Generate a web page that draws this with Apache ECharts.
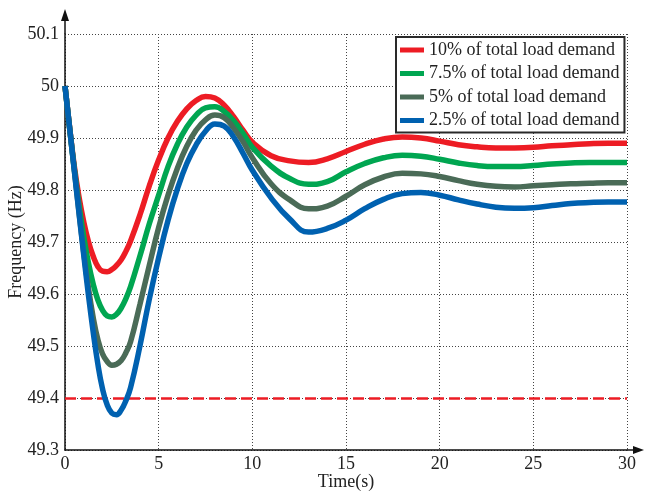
<!DOCTYPE html>
<html>
<head>
<meta charset="utf-8">
<script src="https://cdn.jsdelivr.net/npm/echarts@6/dist/echarts.min.js"></script>
<style>
html,body{margin:0;padding:0;background:#fff;}
#chart{width:646px;height:494px;}
</style>
</head>
<body>
<div id="chart"></div>
<script>
var times = [0, 0.25, 0.5, 0.75, 1, 1.25, 1.5, 1.75, 2, 2.25, 2.5, 2.75, 3, 3.25, 3.5,
  4, 4.5, 5, 5.5, 6, 6.5, 7, 7.5, 8, 8.5, 9, 9.5, 10,
  11, 12, 13, 14, 15, 16, 17, 18, 19, 20, 21, 22, 23, 24, 25, 26, 27, 28, 29, 30];
var seriesNames = ['10% of total load demand', '7.5% of total load demand', '5% of total load demand', '2.5% of total load demand'];
var red10 = [50, 49.92, 49.845, 49.786, 49.739, 49.701, 49.673, 49.653, 49.644, 49.643, 49.647, 49.655, 49.666, 49.682, 49.702,
  49.752, 49.808, 49.858, 49.9, 49.932, 49.956, 49.972, 49.98, 49.977, 49.963, 49.941, 49.915, 49.892,
  49.866, 49.856, 49.853, 49.86, 49.874, 49.888, 49.898, 49.902, 49.9, 49.894, 49.887, 49.883, 49.881, 49.881, 49.882, 49.885, 49.887, 49.889, 49.89, 49.89];
var green75 = [50, 49.918, 49.84, 49.77, 49.71, 49.66, 49.62, 49.589, 49.569, 49.558, 49.556, 49.561, 49.573, 49.591, 49.614,
  49.673, 49.735, 49.79, 49.845, 49.888, 49.921, 49.944, 49.958, 49.96, 49.951, 49.933, 49.909, 49.882,
  49.846, 49.822, 49.811, 49.816, 49.835, 49.851, 49.862, 49.867, 49.865, 49.859, 49.852, 49.847, 49.845, 49.845, 49.847, 49.85, 49.852, 49.853, 49.853, 49.853];
var dark5 = [50, 49.918, 49.838, 49.757, 49.68, 49.612, 49.556, 49.513, 49.485, 49.47, 49.463, 49.465, 49.472, 49.487, 49.508,
  49.58, 49.655, 49.728, 49.79, 49.842, 49.884, 49.915, 49.935, 49.944, 49.939, 49.919, 49.893, 49.862,
  49.812, 49.781, 49.764, 49.769, 49.788, 49.81, 49.825, 49.832, 49.831, 49.826, 49.818, 49.811, 49.807, 49.806, 49.808, 49.81, 49.812, 49.813, 49.814, 49.814];
var blue25 = [50, 49.918, 49.836, 49.755, 49.675, 49.598, 49.528, 49.466, 49.418, 49.387, 49.371, 49.368, 49.377, 49.395, 49.42,
  49.5, 49.59, 49.67, 49.742, 49.802, 49.851, 49.887, 49.913, 49.927, 49.923, 49.902, 49.871, 49.838,
  49.785, 49.744, 49.719, 49.726, 49.742, 49.764, 49.782, 49.793, 49.795, 49.79, 49.781, 49.773, 49.767, 49.765, 49.766, 49.77, 49.774, 49.776, 49.777, 49.777];
var limitFreq = 49.4;
var xTicks = [0, 5, 10, 15, 20, 25, 30];
var yTicks = [49.3, 49.4, 49.5, 49.6, 49.7, 49.8, 49.9, 50, 50.1];

var colors = ['#ed1c24', '#00a651', '#4a6b57', '#0061b0'];
var allValues = [red10, green75, dark5, blue25];

var G = {left: 65, right: 19, top: 34, bottom: 44};
var W = 646, H = 494;
var font = '"Liberation Serif", "Times New Roman", serif';

function pairs(vals) {
  return times.map(function (t, i) { return [t, vals[i]]; });
}

var series = allValues.map(function (vals, i) {
  var s = {
    name: seriesNames[i],
    type: 'line',
    data: pairs(vals),
    smooth: 0.45,
    showSymbol: false,
    symbol: 'none',
    lineStyle: {color: colors[i], width: 5.5},
    itemStyle: {color: colors[i]},
    z: 3 + i
  };
  if (i === 0) {
    s.markLine = {
      silent: true,
      symbol: ['none', 'none'],
      label: {show: false},
      lineStyle: {color: '#ed1c24', width: 2.5, type: [11, 5]},
      data: [{yAxis: limitFreq}]
    };
  }
  return s;
});

var ax = G.left, ay = H - G.bottom, rx = W - G.right;
var chart = echarts.init(document.getElementById('chart'), null, {renderer: 'canvas'});
chart.setOption({
  backgroundColor: '#fff',
  animation: false,
  grid: {left: G.left, right: G.right, top: G.top, bottom: G.bottom, containLabel: false, outerBoundsMode: 'none'},
  legend: {
    data: seriesNames,
    orient: 'vertical',
    left: 396,
    top: 37,
    icon: 'rect',
    itemWidth: 24,
    itemHeight: 5,
    itemGap: 3.5,
    padding: [3, 5, 2, 4],
    borderColor: '#2a2a2a',
    borderWidth: 2,
    backgroundColor: '#fff',
    textStyle: {fontFamily: font, fontSize: 18, color: '#222', lineHeight: 20}
  },
  xAxis: {
    type: 'value',
    min: xTicks[0],
    max: xTicks[xTicks.length - 1],
    interval: 5,
    name: 'Time(s)',
    nameLocation: 'middle',
    nameGap: 23,
    nameMoveOverlap: false,
    nameTextStyle: {fontFamily: font, fontSize: 18, color: '#222'},
    axisLine: {lineStyle: {color: '#111', width: 1.5}},
    axisTick: {show: false},
    axisLabel: {fontFamily: font, fontSize: 18, color: '#222', margin: 5},
    splitLine: {show: true, lineStyle: {color: '#444', width: 1, type: [1, 2]}}
  },
  yAxis: {
    type: 'value',
    min: yTicks[0],
    max: yTicks[yTicks.length - 1],
    interval: 0.1,
    name: 'Frequency (Hz)',
    nameLocation: 'middle',
    nameGap: 40,
    nameMoveOverlap: false,
    nameTextStyle: {fontFamily: font, fontSize: 18, color: '#222'},
    axisLine: {lineStyle: {color: '#111', width: 1.5}},
    axisTick: {show: false},
    axisLabel: {
      fontFamily: font, fontSize: 18, color: '#222', margin: 6,
      formatter: function (v) { return String(Math.round(v * 10) / 10); }
    },
    splitLine: {show: true, lineStyle: {color: '#444', width: 1, type: [1, 2]}}
  },
  graphic: [
    {type: 'line', shape: {x1: ax, y1: G.top, x2: ax, y2: 14}, style: {stroke: '#111', lineWidth: 1.5}, z: 10},
    {type: 'polygon', shape: {points: [[ax - 4, 21], [ax, 9], [ax + 4, 21]]}, style: {fill: '#111'}, z: 10},
    {type: 'line', shape: {x1: rx, y1: ay, x2: rx + 12, y2: ay}, style: {stroke: '#111', lineWidth: 1.5}, z: 10},
    {type: 'polygon', shape: {points: [[rx + 6, ay - 4], [rx + 17, ay], [rx + 6, ay + 4]]}, style: {fill: '#111'}, z: 10}
  ],
  series: series
});
</script>
</body>
</html>
